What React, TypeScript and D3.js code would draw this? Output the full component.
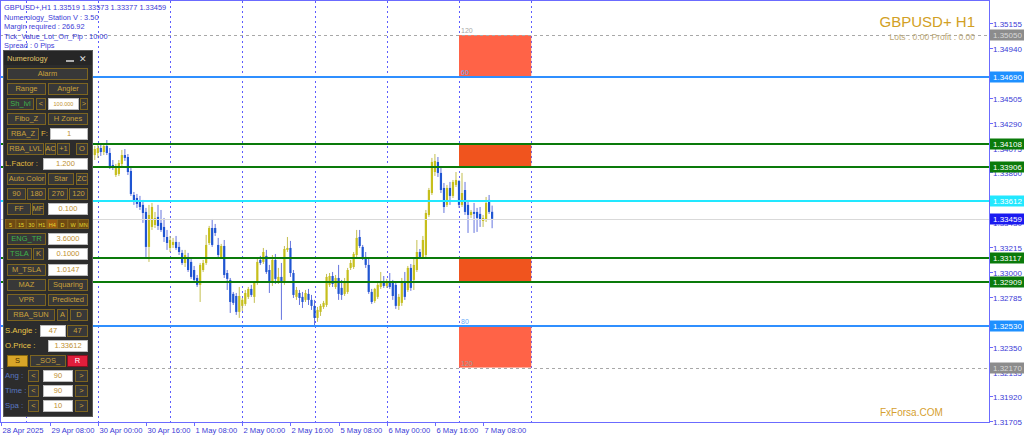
import React from "react";
import * as d3 from "d3";

// ---------- DATA ----------
const sessionDays = ["28 Apr", "29 Apr", "30 Apr", "1 May", "2 May", "5 May", "6 May", "7 May", "8 May"];
const firstBar: [string, number] = ["29 Apr", 22];

// H1 candles [open, high, low, close]
const candles: [number, number, number, number][] = [
  [1.33994, 1.34081, 1.33951, 1.34055], [1.34011, 1.34089, 1.33968, 1.34063], [1.34029, 1.34098, 1.33986, 1.34072],
  [1.34072, 1.34106, 1.34003, 1.34037], [1.34037, 1.34115, 1.34011, 1.34089], [1.34089, 1.34141, 1.34011, 1.34029],
  [1.34029, 1.34072, 1.33890, 1.33916], [1.33925, 1.33968, 1.33882, 1.33899], [1.33838, 1.33934, 1.33821, 1.33916],
  [1.33847, 1.33968, 1.33830, 1.33942], [1.33934, 1.34055, 1.33916, 1.34011], [1.34011, 1.34063, 1.33960, 1.33986],
  [1.33994, 1.34020, 1.33838, 1.33864], [1.33873, 1.33899, 1.33657, 1.33674], [1.33665, 1.33691, 1.33579, 1.33613],
  [1.33639, 1.33674, 1.33553, 1.33587], [1.33605, 1.33657, 1.33535, 1.33561], [1.33579, 1.33622, 1.33423, 1.33509],
  [1.33518, 1.33553, 1.33128, 1.33215], [1.33215, 1.33579, 1.33085, 1.33492], [1.33388, 1.33596, 1.33362, 1.33561],
  [1.33405, 1.33518, 1.33379, 1.33466], [1.33475, 1.33579, 1.33362, 1.33397], [1.33423, 1.33535, 1.33345, 1.33362],
  [1.33388, 1.33466, 1.33258, 1.33301], [1.33301, 1.33362, 1.33189, 1.33249], [1.33206, 1.33310, 1.33171, 1.33275],
  [1.33232, 1.33293, 1.33206, 1.33258], [1.33258, 1.33310, 1.33189, 1.33206], [1.33215, 1.33258, 1.33145, 1.33171],
  [1.33163, 1.33189, 1.33059, 1.33076], [1.33076, 1.33189, 1.33041, 1.33145], [1.33128, 1.33163, 1.32998, 1.33015],
  [1.33085, 1.33119, 1.32938, 1.32955], [1.33015, 1.33050, 1.32912, 1.32929], [1.32946, 1.32972, 1.32868, 1.32886],
  [1.32886, 1.33076, 1.32738, 1.33059], [1.33015, 1.33102, 1.32998, 1.33076], [1.33076, 1.33319, 1.33059, 1.33232],
  [1.33249, 1.33397, 1.33232, 1.33379], [1.33379, 1.33457, 1.33215, 1.33232], [1.33379, 1.33414, 1.33310, 1.33336],
  [1.33232, 1.33293, 1.33128, 1.33145], [1.33128, 1.33241, 1.33111, 1.33223], [1.33223, 1.33275, 1.32946, 1.32972],
  [1.32989, 1.33015, 1.32842, 1.32938], [1.32929, 1.32946, 1.32643, 1.32738], [1.32808, 1.32825, 1.32712, 1.32730],
  [1.32790, 1.32816, 1.32626, 1.32652], [1.32652, 1.32868, 1.32600, 1.32790], [1.32704, 1.32773, 1.32660, 1.32756],
  [1.32721, 1.32842, 1.32704, 1.32816], [1.32782, 1.32868, 1.32764, 1.32851], [1.32851, 1.32886, 1.32782, 1.32799],
  [1.32782, 1.32920, 1.32730, 1.32903], [1.32903, 1.33119, 1.32886, 1.33085], [1.33102, 1.33137, 1.33059, 1.33076],
  [1.33085, 1.33206, 1.33067, 1.33171], [1.33137, 1.33189, 1.32981, 1.32998], [1.33015, 1.33059, 1.32816, 1.32903],
  [1.32903, 1.33145, 1.32877, 1.33102], [1.33102, 1.33154, 1.32894, 1.32938], [1.32912, 1.33033, 1.32894, 1.32955],
  [1.32955, 1.33076, 1.32583, 1.32912], [1.32912, 1.33223, 1.32886, 1.33197], [1.33189, 1.33301, 1.33171, 1.33206],
  [1.33206, 1.33267, 1.32955, 1.32989], [1.32989, 1.33015, 1.32773, 1.32799], [1.32782, 1.32868, 1.32756, 1.32842],
  [1.32816, 1.32842, 1.32712, 1.32773], [1.32782, 1.32825, 1.32686, 1.32738], [1.32756, 1.32842, 1.32738, 1.32816],
  [1.32808, 1.32851, 1.32712, 1.32756], [1.32756, 1.32799, 1.32669, 1.32704], [1.32704, 1.32756, 1.32538, 1.32600],
  [1.32600, 1.32695, 1.32566, 1.32669], [1.32652, 1.32721, 1.32617, 1.32704], [1.32695, 1.32747, 1.32678, 1.32730],
  [1.32712, 1.32981, 1.32695, 1.32955], [1.32886, 1.32989, 1.32868, 1.32963], [1.32963, 1.32998, 1.32868, 1.32894],
  [1.32868, 1.32972, 1.32851, 1.32946], [1.32946, 1.33059, 1.32756, 1.32808], [1.32860, 1.32929, 1.32756, 1.32799],
  [1.32808, 1.32946, 1.32790, 1.32920], [1.32825, 1.33033, 1.32808, 1.33015], [1.33033, 1.33102, 1.33015, 1.33076],
  [1.33041, 1.33171, 1.33024, 1.33154], [1.33145, 1.33362, 1.33128, 1.33293], [1.33301, 1.33362, 1.33206, 1.33223],
  [1.33215, 1.33232, 1.33102, 1.33128], [1.33128, 1.33171, 1.33033, 1.33059], [1.33059, 1.33119, 1.32808, 1.32825],
  [1.32825, 1.32851, 1.32721, 1.32738], [1.32747, 1.32860, 1.32730, 1.32851], [1.32782, 1.32903, 1.32764, 1.32886],
  [1.32868, 1.32998, 1.32851, 1.32912], [1.32912, 1.32963, 1.32860, 1.32877], [1.32877, 1.32938, 1.32860, 1.32912],
  [1.32912, 1.32989, 1.32851, 1.32868], [1.32903, 1.32929, 1.32756, 1.32790], [1.32886, 1.32912, 1.32678, 1.32704],
  [1.32704, 1.32808, 1.32669, 1.32782], [1.32730, 1.32946, 1.32704, 1.32920], [1.32920, 1.32998, 1.32756, 1.32782],
  [1.32842, 1.33050, 1.32825, 1.33033], [1.33033, 1.33067, 1.32834, 1.32860], [1.32929, 1.33119, 1.32842, 1.33059],
  [1.33015, 1.33275, 1.32998, 1.33171], [1.33171, 1.33197, 1.33111, 1.33128], [1.33128, 1.33310, 1.33111, 1.33275],
  [1.33145, 1.33535, 1.33128, 1.33509], [1.33492, 1.33726, 1.33475, 1.33708], [1.33682, 1.33986, 1.33665, 1.33951],
  [1.33864, 1.34020, 1.33830, 1.33960], [1.33951, 1.33994, 1.33821, 1.33856], [1.33856, 1.33899, 1.33682, 1.33708],
  [1.33726, 1.33769, 1.33509, 1.33561], [1.33579, 1.33752, 1.33561, 1.33726], [1.33726, 1.33778, 1.33579, 1.33657],
  [1.33657, 1.33795, 1.33639, 1.33778], [1.33752, 1.33864, 1.33734, 1.33795], [1.33786, 1.33795, 1.33553, 1.33579],
  [1.33579, 1.33856, 1.33561, 1.33682], [1.33708, 1.33778, 1.33492, 1.33518], [1.33579, 1.33622, 1.33336, 1.33492],
  [1.33492, 1.33535, 1.33466, 1.33518], [1.33518, 1.33596, 1.33336, 1.33501], [1.33518, 1.33553, 1.33345, 1.33466],
  [1.33501, 1.33561, 1.33388, 1.33449], [1.33440, 1.33492, 1.33388, 1.33466], [1.33449, 1.33648, 1.33431, 1.33596],
  [1.33622, 1.33665, 1.33501, 1.33518], [1.33519, 1.33573, 1.33377, 1.33459],
];

const priceTicks = [1.35155, 1.34940, 1.34725, 1.34505, 1.34290, 1.34075, 1.33860, 1.33645, 1.33430,
  1.33215, 1.33000, 1.32785, 1.32565, 1.32350, 1.32135, 1.31920, 1.31705];

const timeTicks: [string, number][] = [["28 Apr", 16], ["29 Apr", 8], ["30 Apr", 0], ["30 Apr", 16], ["1 May", 8],
  ["2 May", 0], ["2 May", 16], ["5 May", 8], ["6 May", 0], ["6 May", 16], ["7 May", 8]];

const levelPrices = [1.35050, 1.34690, 1.34108, 1.33906, 1.33612, 1.33459, 1.33117, 1.32909, 1.32530, 1.32170];
const levelKinds = ["gray", "blue", "green", "green", "cyan", "bid", "green", "green", "blue", "gray"];

const zoneTops = [1.35050, 1.34108, 1.33117, 1.32530];
const zoneBottoms = [1.34690, 1.33906, 1.32909, 1.32170];
const zoneKinds = ["light", "dark", "dark", "light"];
const zoneStart: [string, number] = ["7 May", 0];
const zoneEnd: [string, number] = ["8 May", 0];

const infoLines = [
  "GBPUSD+,H1  1.33519 1.33573 1.33377 1.33459",
  "Numerology_Station V : 3.50",
  "Margin required : 266.92",
  "Tick_Value_Lot_On_Pip : 10.00",
  "Spread : 0  Pips",
];

// ---------- STYLE ----------
const FONT = "'Liberation Sans', Arial, sans-serif";
const FRAME = "#6b6bff";
const TXT = "#3a3ad6";
const kindStyle: Record<string, { line: string; w: number; dash?: string; box: string; txt: string }> = {
  gray: { line: "#a8a8a8", w: 1, dash: "3,3", box: "#8c8c8c", txt: "#d8d8d8" },
  blue: { line: "#2f8fff", w: 2, box: "#1e90ff", txt: "#ffffff" },
  green: { line: "#0a7a0a", w: 2, box: "#0a7a0a", txt: "#ffffff" },
  cyan: { line: "#22e8ff", w: 2, box: "#22e8ff", txt: "#ffffff" },
  bid: { line: "#d9d9d9", w: 1, box: "#1a1af0", txt: "#ffffff" },
};

const tIndex = (d: string, h: number) => sessionDays.indexOf(d) * 24 + h;
const pad2 = (n: number) => (n < 10 ? "0" + n : "" + n);

// ---------- PANEL ----------
const GOLD = "#c9a13b";
type Item = { x: number; w: number; t: string; k: string };
const panelRows: [number, Item[]][] = [
  [68, [{ x: 7, w: 80, t: "Alarm", k: "btn" }]],
  [83, [{ x: 7, w: 38, t: "Range", k: "btn" }, { x: 48, w: 39, t: "Angler", k: "btn" }]],
  [98, [{ x: 7, w: 26, t: "Sh_lvl", k: "btnG" }, { x: 36, w: 9, t: "<", k: "btn" }, { x: 48, w: 30, t: "100.000", k: "boxS" }, { x: 80, w: 7, t: ">", k: "btn" }]],
  [113, [{ x: 7, w: 38, t: "Fibo_Z", k: "btn" }, { x: 48, w: 39, t: "H Zones", k: "btn" }]],
  [128, [{ x: 7, w: 31, t: "RBA_Z", k: "btn" }, { x: 41, w: 8, t: "F:", k: "lbl" }, { x: 50, w: 37, t: "1", k: "box" }]],
  [143, [{ x: 7, w: 36, t: "RBA_LVL", k: "btn" }, { x: 45, w: 10, t: "AC", k: "btn" }, { x: 57, w: 12, t: "+1", k: "btn" }, { x: 76, w: 11, t: "O", k: "btn" }]],
  [158, [{ x: 5, w: 36, t: "L.Factor :", k: "lbl" }, { x: 43, w: 44, t: "1.200", k: "box" }]],
  [173, [{ x: 7, w: 38, t: "Auto Color", k: "btn" }, { x: 48, w: 25, t: "Star", k: "btn" }, { x: 76, w: 11, t: "ZC", k: "btn" }]],
  [188, [{ x: 7, w: 18, t: "90", k: "btn" }, { x: 27, w: 18, t: "180", k: "btn" }, { x: 48, w: 19, t: "270", k: "btn" }, { x: 69, w: 18, t: "120", k: "btn" }]],
  [203, [{ x: 7, w: 23, t: "FF", k: "btn" }, { x: 32, w: 11, t: "MF", k: "btn" }, { x: 48, w: 39, t: "0.100", k: "box" }]],
  [233, [{ x: 7, w: 38, t: "ENG_TR", k: "btnG" }, { x: 48, w: 39, t: "3.6000", k: "box" }]],
  [248, [{ x: 7, w: 24, t: "TSLA", k: "btnG" }, { x: 33, w: 10, t: "K", k: "btn" }, { x: 48, w: 39, t: "0.1000", k: "box" }]],
  [264, [{ x: 7, w: 38, t: "M_TSLA", k: "btn" }, { x: 48, w: 39, t: "1.0147", k: "box" }]],
  [279, [{ x: 7, w: 38, t: "MAZ", k: "btn" }, { x: 48, w: 39, t: "Squaring", k: "btn" }]],
  [294, [{ x: 7, w: 38, t: "VPR", k: "btn" }, { x: 48, w: 39, t: "Predicted", k: "btn" }]],
  [309, [{ x: 7, w: 47, t: "RBA_SUN", k: "btn" }, { x: 57, w: 10, t: "A", k: "btn" }, { x: 70, w: 17, t: "D", k: "btn" }]],
  [325, [{ x: 5, w: 34, t: "S.Angle :", k: "lblY" }, { x: 40, w: 25, t: "47", k: "box" }, { x: 67, w: 20, t: "47", k: "btn" }]],
  [340, [{ x: 5, w: 34, t: "O.Price :", k: "lblY" }, { x: 48, w: 39, t: "1.33612", k: "box" }]],
  [355, [{ x: 7, w: 20, t: "S", k: "gold" }, { x: 30, w: 35, t: "_SOS_", k: "btn" }, { x: 67, w: 20, t: "R", k: "red" }]],
  [370, [{ x: 5, w: 20, t: "Ang :", k: "lblB" }, { x: 28, w: 10, t: "<", k: "btn" }, { x: 43, w: 29, t: "90", k: "box" }, { x: 75, w: 12, t: ">", k: "btn" }]],
  [385, [{ x: 5, w: 20, t: "Time :", k: "lblB" }, { x: 28, w: 10, t: "<", k: "btn" }, { x: 43, w: 29, t: "90", k: "box" }, { x: 75, w: 12, t: ">", k: "btn" }]],
  [400, [{ x: 5, w: 20, t: "Spa :", k: "lblB" }, { x: 28, w: 10, t: "<", k: "btn" }, { x: 43, w: 29, t: "10", k: "box" }, { x: 75, w: 12, t: ">", k: "btn" }]],
];
const tfLabels = ["5", "15", "30", "H1", "H4", "D", "W", "MN"];

function PanelItem({ it, y }: { it: Item; y: number }) {
  const h = 11;
  const cx = it.x + it.w / 2;
  const ty = y + 8.4;
  if (it.k.startsWith("lbl")) {
    const col = it.k === "lblB" ? "#5a78c0" : it.k === "lblY" ? "#e8c54a" : "#e0b840";
    return <text x={it.x} y={ty} fontSize={7.8} fill={col} fontFamily={FONT}>{it.t}</text>;
  }
  let fill = "#383838", stroke = "#7d6520", col = GOLD, fs = 7.5;
  if (it.k === "btnG") col = "#3fb34a";
  if (it.k === "box" || it.k === "boxS") { fill = "#ffffff"; stroke = "#bdbdbd"; col = "#c09030"; }
  if (it.k === "boxS") fs = 5.5;
  if (it.k === "gold") { fill = "#d8a528"; stroke = "#8a6a10"; col = "#4a3000"; }
  if (it.k === "red") { fill = "#e01e3c"; stroke = "#8a1020"; col = "#ffffff"; }
  return (
    <g>
      <rect x={it.x + 0.5} y={y + 0.5} width={it.w} height={h} fill={fill} stroke={stroke} strokeWidth={1} />
      <text x={cx + 0.5} y={ty} fontSize={fs} fill={col} textAnchor="middle" fontFamily={FONT}>{it.t}</text>
    </g>
  );
}

function Panel() {
  return (
    <g>
      <rect x={3.5} y={50.5} width={89} height={366} fill="#2c2c2c" stroke="#5a5a5a" />
      <rect x={4} y={51} width={88} height={14} fill="#262626" />
      <text x={7} y={61} fontSize={7.5} fill="#e2c66a" fontFamily={FONT}>Numerology</text>
      <line x1={66} x2={74} y1={61} y2={61} stroke="#dddddd" strokeWidth={1.5} />
      <text x={79} y={62} fontSize={9} fill="#dddddd" fontFamily={FONT}>✕</text>
      {panelRows.map(([y, items]) => items.map((it, i) => <PanelItem key={y + "-" + i} it={it} y={y} />))}
      {tfLabels.map((t, i) => {
        const w = 10.2;
        const x0 = 5.5 + i * 10.4;
        return (
          <g key={t}>
            <rect x={x0} y={219.5} width={w} height={9} fill={i === 4 ? "#9a5a10" : "#6e4a12"} stroke="#8a6a20" strokeWidth={0.8} />
            <text x={x0 + w / 2} y={226.5} fontSize={5.5} fill="#e2d830" textAnchor="middle" fontFamily={FONT}>{t}</text>
          </g>
        );
      })}
    </g>
  );
}

export default function App() {
  const plotR = 989;
  const plotB = 422;
  const y = d3.scaleLinear().domain([1.31705, 1.35155]).range([421.2, 23]);
  const x = d3.scaleLinear().domain([tIndex("30 Apr", 0), tIndex("7 May", 0)]).range([97.8, 459]);
  const first = tIndex(firstBar[0], firstBar[1]);
  const zx0 = x(tIndex(zoneStart[0], zoneStart[1]));
  const zx1 = x(tIndex(zoneEnd[0], zoneEnd[1]));
  const gridDays = sessionDays.slice(1);

  return (
    <svg width={1024} height={439} style={{ position: "absolute", left: 0, top: 0, background: "#fff" }}>
      <rect x={0} y={0} width={1024} height={439} fill="#ffffff" />
      {/* day grid */}
      {gridDays.map((d) => {
        const gx = Math.round(x(tIndex(d, 0))) + 0.5;
        return <line key={d} x1={gx} x2={gx} y1={1} y2={plotB} stroke="#5c5cff" strokeDasharray="2,3" />;
      })}
      {/* zones */}
      {zoneTops.map((t, i) => (
        <rect key={i} x={zx0} y={y(t)} width={zx1 - zx0} height={y(zoneBottoms[i]) - y(t)}
          fill={zoneKinds[i] === "light" ? "#ff6347" : "#f0541e"} />
      ))}
      {/* candles */}
      {candles.map(([o, h, l, c], i) => {
        const cx = x(first + i);
        const bull = c >= o;
        const top = y(Math.max(o, c));
        const bot = y(Math.min(o, c));
        return (
          <g key={i}>
            <line x1={cx} x2={cx} y1={y(h)} y2={y(l)} stroke={bull ? "#c4bf50" : "#6574de"} strokeWidth={1} />
            <rect x={cx - 1.1} y={top} width={2.2} height={Math.max(1, bot - top)} fill={bull ? "#c6bf1c" : "#1f55d2"} />
          </g>
        );
      })}
      {/* level lines */}
      {levelPrices.map((p, i) => {
        const s = kindStyle[levelKinds[i]];
        const ly = Math.round(y(p)) + (s.w === 1 ? 0.5 : 0);
        return <line key={p} x1={0} x2={plotR} y1={ly} y2={ly} stroke={s.line} strokeWidth={s.w} strokeDasharray={s.dash} />;
      })}
      {/* zone labels */}
      <text x={461} y={y(zoneTops[0]) - 2} fontSize={7} fill="#a8a8a8" fontFamily={FONT}>120</text>
      <text x={461} y={y(zoneBottoms[0]) - 2} fontSize={7} fill="#6aaaf8" fontFamily={FONT}>60</text>
      <text x={461} y={y(zoneTops[3]) - 2} fontSize={7} fill="#6aaaf8" fontFamily={FONT}>80</text>
      <text x={461} y={y(zoneBottoms[3]) - 2} fontSize={7} fill="#a0a0a0" fontFamily={FONT}>120</text>

      {/* info text */}
      {infoLines.map((t, i) => (
        <text key={i} x={4} y={10 + i * 9.5} fontSize={7.4} fill={TXT} fontFamily={FONT}>{t}</text>
      ))}
      {/* title */}
      <text x={975} y={27} fontSize={15} fill="#d2a024" textAnchor="end" fontFamily={FONT}>GBPUSD+ H1</text>
      <text x={975} y={40} fontSize={8.5} fill="#bba877" textAnchor="end" fontFamily={FONT}>Lots : 0.00 Profit : 0.00</text>
      <text x={880} y={416} fontSize={10} fill="#d6a030" fontFamily={FONT}>FxForsa.COM</text>

      <Panel />

      {/* frame */}
      <line x1={0.5} x2={0.5} y1={0} y2={plotB} stroke={FRAME} />
      <line x1={0} x2={plotR} y1={0.5} y2={0.5} stroke={FRAME} />
      <line x1={plotR + 0.5} x2={plotR + 0.5} y1={0} y2={plotB + 1} stroke={FRAME} />
      <line x1={0} x2={plotR + 1} y1={plotB + 0.5} y2={plotB + 0.5} stroke={FRAME} />

      {/* price axis */}
      {priceTicks.map((p) => {
        const ty = Math.round(y(p)) + 0.5;
        return (
          <g key={p}>
            <line x1={plotR} x2={plotR + 4} y1={ty} y2={ty} stroke={FRAME} />
            <text x={993} y={ty + 3} fontSize={8} fill={TXT} fontFamily={FONT}>{p.toFixed(5)}</text>
          </g>
        );
      })}
      {levelPrices.map((p, i) => {
        const s = kindStyle[levelKinds[i]];
        const ly = Math.round(y(p));
        return (
          <g key={"b" + p}>
            <rect x={990} y={ly - 5.5} width={34} height={11} fill={s.box} />
            <text x={993} y={ly + 3} fontSize={8} fill={s.txt} fontFamily={FONT}>{p.toFixed(5)}</text>
          </g>
        );
      })}
      {/* time axis */}
      {timeTicks.map(([d, h], i) => {
        const tx = Math.round(x(tIndex(d, h))) + 0.5;
        const label = i === 0 ? d + " 2025" : d + " " + pad2(h) + ":00";
        return (
          <g key={i}>
            <line x1={tx} x2={tx} y1={plotB} y2={plotB + 4} stroke={FRAME} />
            <text x={tx + 1} y={433} fontSize={7.6} fill={TXT} fontFamily={FONT}>{label}</text>
          </g>
        );
      })}
    </svg>
  );
}
